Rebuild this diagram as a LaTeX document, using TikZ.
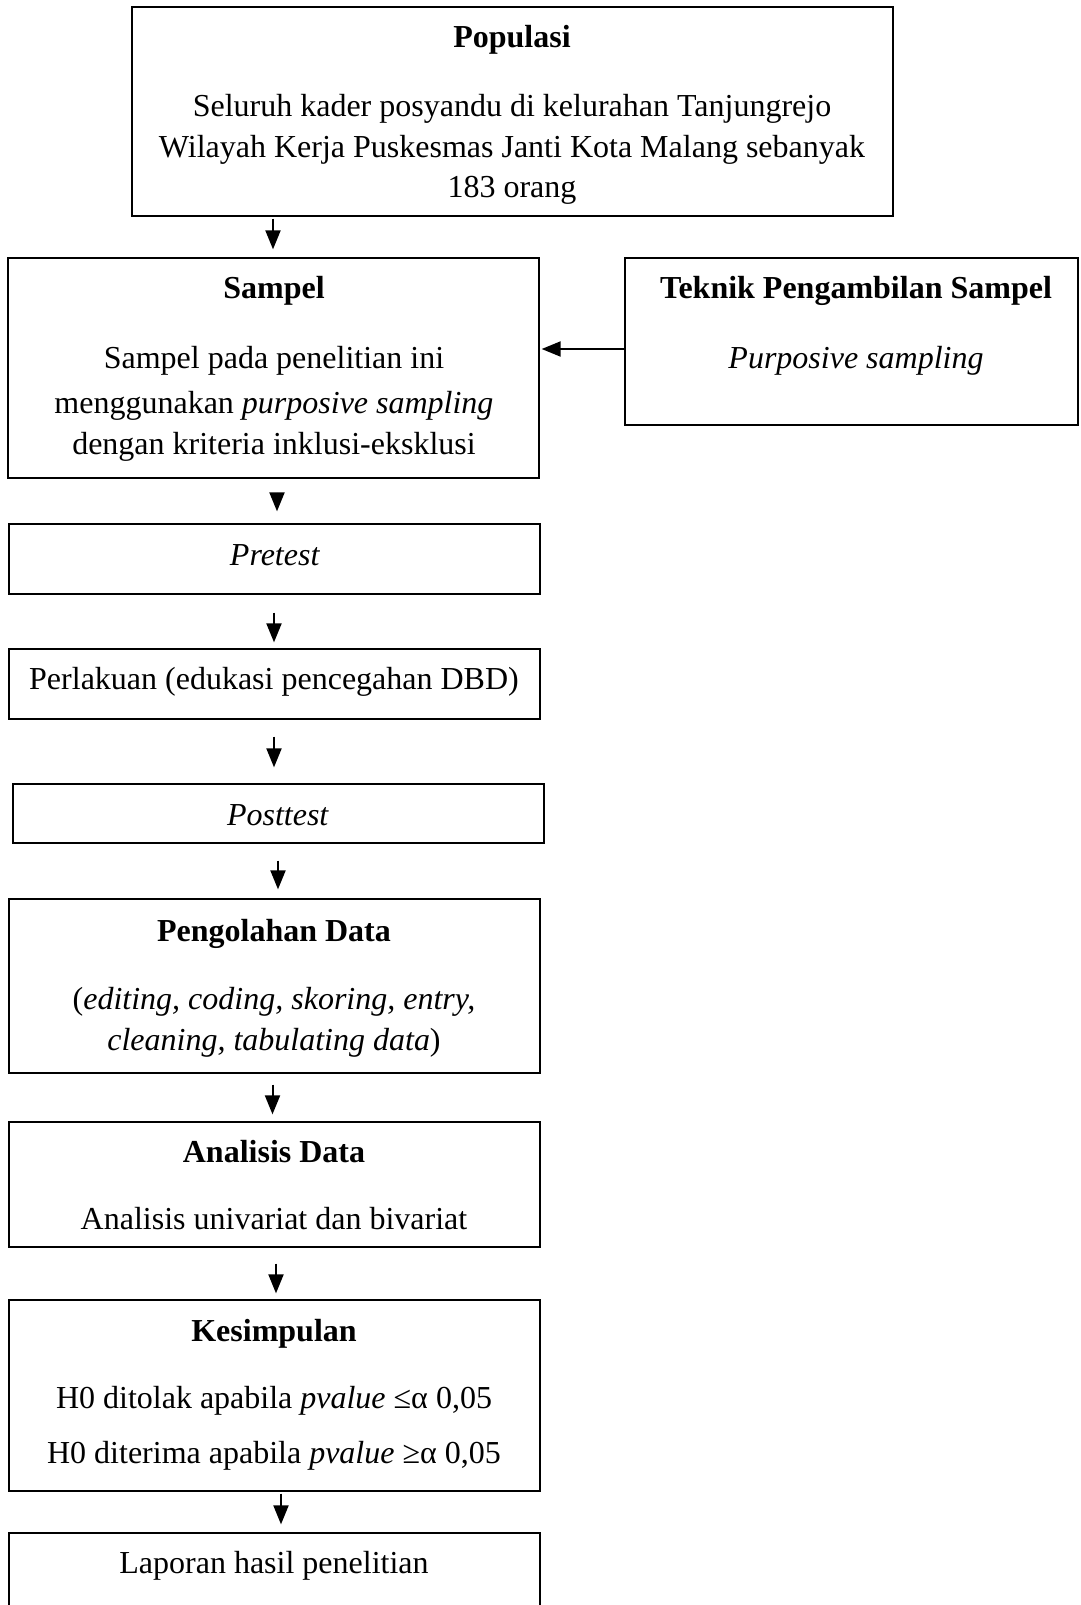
\documentclass[tikz,border=0pt]{standalone}
\usepackage{fontspec}
\setmainfont{Liberation Serif}
\usetikzlibrary{arrows.meta}
\begin{document}
\begin{tikzpicture}[x=1pt,y=-1pt,
  box/.style={draw,line width=1.3pt,inner sep=0pt},
  txt/.style={anchor=base,inner sep=0pt,font=\fontsize{32}{38}\selectfont},
  ttl/.style={txt,font=\fontsize{32}{38}\selectfont\bfseries},
  arr/.style={line width=2pt,-{Triangle[length=19pt,width=15pt]}}]
\useasboundingbox (0,0) rectangle (1080,1605);
% boxes
\node[box,minimum width=761pt,minimum height=209pt] (pop) at (512.5,111.5) {};
\node[box,minimum width=531pt,minimum height=220pt] (samp) at (273.5,368) {};
\node[box,minimum width=453pt,minimum height=167pt] (tek) at (851.5,341.5) {};
\node[box,minimum width=531pt,minimum height=70pt] (pre) at (274.5,559) {};
\node[box,minimum width=531pt,minimum height=70pt] (perl) at (274.5,684) {};
\node[box,minimum width=531pt,minimum height=59pt] (post) at (278.5,813.5) {};
\node[box,minimum width=531pt,minimum height=174pt] (peng) at (274.5,986) {};
\node[box,minimum width=531pt,minimum height=125pt] (anal) at (274.5,1184.5) {};
\node[box,minimum width=531pt,minimum height=191pt] (kes) at (274.5,1395.5) {};
\node[box,minimum width=531pt,minimum height=80pt] (lap) at (274.5,1573) {};
% texts
\node[ttl] (t1) at (512,48) {Populasi};
\node[txt] (t2) at (512,117) {Seluruh kader posyandu di kelurahan Tanjungrejo};
\node[txt] (t3) at (512,158) {Wilayah Kerja Puskesmas Janti Kota Malang sebanyak};
\node[txt] (t4) at (512,198) {183 orang};
\node[ttl] (s1) at (274,298) {Sampel};
\node[txt] (s2) at (274,368) {Sampel pada penelitian ini};
\node[txt] (s3) at (274,413) {menggunakan \textit{purposive sampling}};
\node[txt] (s4) at (274,454) {dengan kriteria inklusi-eksklusi};
\node[ttl] (k1) at (856,298) {Teknik Pengambilan Sampel};
\node[txt] (k2) at (856,368) {\textit{Purposive sampling}};
\node[txt] (p1) at (275,565) {\textit{Pretest}};
\node[txt] (p2) at (274,689) {Perlakuan (edukasi pencegahan DBD)};
\node[txt] (p3) at (278,825) {\textit{Posttest}};
\node[ttl] (g1) at (274,941) {Pengolahan Data};
\node[txt] (g2) at (274,1009) {(\textit{editing, coding, skoring, entry,}};
\node[txt] (g3) at (274,1050) {\textit{cleaning, tabulating data})};
\node[ttl] (a1) at (274,1162) {Analisis Data};
\node[txt] (a2) at (274,1229) {Analisis univariat dan bivariat};
\node[ttl] (e1) at (274,1341) {Kesimpulan};
\node[txt] (e2) at (274,1408) {H0 ditolak apabila \textit{pvalue} ≤α 0,05};
\node[txt] (e3) at (274,1463) {H0 diterima apabila \textit{pvalue} ≥α 0,05};
\node[txt] (l1) at (274,1573) {Laporan hasil penelitian};
% arrow x positions
\coordinate (x1) at (273,0);
\coordinate (x2) at (277,0);
\coordinate (x3) at (274,0);
\coordinate (x4) at (274,0);
\coordinate (x5) at (278,0);
\coordinate (x6) at (272.5,0);
\coordinate (x7) at (276,0);
\coordinate (x8) at (281,0);
\coordinate (yh) at (0,349);
% arrows
\draw[arr,shorten <=2pt,shorten >=8pt] (pop.south -| x1) -- (samp.north -| x1);
\draw[arr,shorten <=14pt,shorten >=12pt] (samp.south -| x2) -- (pre.north -| x2);
\draw[arr,shorten <=18pt,shorten >=6pt] (pre.south -| x3) -- (perl.north -| x3);
\draw[arr,shorten <=17pt,shorten >=16pt] (perl.south -| x4) -- (post.north -| x4);
\draw[arr,shorten <=17pt,shorten >=9pt] (post.south -| x5) -- (peng.north -| x5);
\draw[arr,shorten <=11pt,shorten >=7pt] (peng.south -| x6) -- (anal.north -| x6);
\draw[arr,shorten <=16pt,shorten >=6pt] (anal.south -| x7) -- (kes.north -| x7);
\draw[arr,shorten <=2pt,shorten >=8pt] (kes.south -| x8) -- (lap.north -| x8);
\draw[arr,shorten >=2pt] (tek.west |- yh) -- (samp.east |- yh);
\end{tikzpicture}
\end{document}
